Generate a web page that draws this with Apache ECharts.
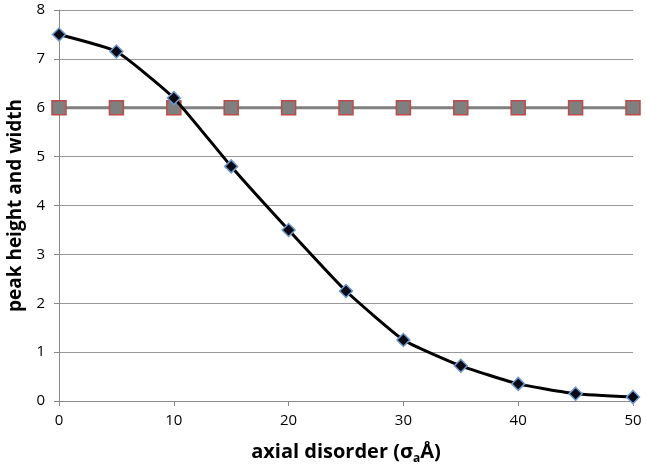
<!DOCTYPE html>
<html>
<head>
<meta charset="utf-8">
<script src="https://cdn.jsdelivr.net/npm/echarts@6/dist/echarts.min.js"></script>
<style>
  html, body { margin: 0; padding: 0; background: #fff; }
  #main { width: 646px; height: 469px; }
</style>
</head>
<body>
<div id="main"></div>
<script>
// axial disorder values (x)
var disorder = [0, 5, 10, 15, 20, 25, 30, 35, 40, 45, 50];
// peak height (black diamonds)
var peakHeight = [7.5, 7.15, 6.2, 4.8, 3.5, 2.25, 1.25, 0.72, 0.35, 0.15, 0.08];
// peak width (red squares)
var peakWidth = [6, 6, 6, 6, 6, 6, 6, 6, 6, 6, 6];

var font = "'Open Sans', 'Liberation Sans', sans-serif";

function pairs(xs, ys) {
    return xs.map(function (x, i) { return [x, ys[i]]; });
}

var mychart = echarts.init(document.getElementById('main'));
var option = {
    animation: false,
    grid: {
        left: 59,
        right: 13,
        top: 10,
        bottom: 68,
        outerBoundsMode: 'none'
    },
    xAxis: {
        type: 'value',
        min: 0,
        max: 50,
        interval: 10,
        name: '{t|axial disorder (σ}{s|a}{t|Å)}',
        nameLocation: 'middle',
        nameGap: 38,
        nameTextStyle: {
            rich: {
                t: { fontFamily: font, fontWeight: 'bold', fontSize: 20, color: '#000', lineHeight: 26 },
                s: { fontFamily: font, fontWeight: 'bold', fontSize: 12, color: '#000', lineHeight: 26, verticalAlign: 'bottom', padding: [10, 0, 0, 0] }
            }
        },
        axisLine: { lineStyle: { color: '#888', width: 1 } },
        axisTick: { show: true, length: 5, lineStyle: { color: '#888' } },
        axisLabel: { fontFamily: font, fontSize: 15, color: '#000', margin: 12 },
        splitLine: { show: false }
    },
    yAxis: {
        type: 'value',
        min: 0,
        max: 8,
        interval: 1,
        name: 'peak height and width',
        nameLocation: 'middle',
        nameGap: 34,
        nameTextStyle: { fontFamily: font, fontWeight: 'bold', fontSize: 19, color: '#000' },
        axisLine: { show: true, lineStyle: { color: '#888', width: 1 } },
        axisTick: { show: true, length: 5, lineStyle: { color: '#888' } },
        axisLabel: { fontFamily: font, fontSize: 15, color: '#000', margin: 14 },
        splitLine: { lineStyle: { color: '#999', width: 1 } }
    },
    series: [{
            name: 'width',
            type: 'line',
            data: pairs(disorder, peakWidth),
            symbol: 'rect',
            symbolSize: 14,
            lineStyle: { color: '#808080', width: 3 },
            itemStyle: { color: '#7f7f7f', borderColor: '#be4b48', borderWidth: 1.5 },
            z: 2
        },
        {
            name: 'height',
            type: 'line',
            data: pairs(disorder, peakHeight),
            smooth: 0.15,
            symbol: 'diamond',
            symbolSize: 13,
            lineStyle: { color: '#000', width: 3 },
            itemStyle: { color: '#0a0a14', borderColor: '#6f9bd1', borderWidth: 1.5 },
            z: 3
        }
    ]
};
mychart.setOption(option);
</script>
</body>
</html>
